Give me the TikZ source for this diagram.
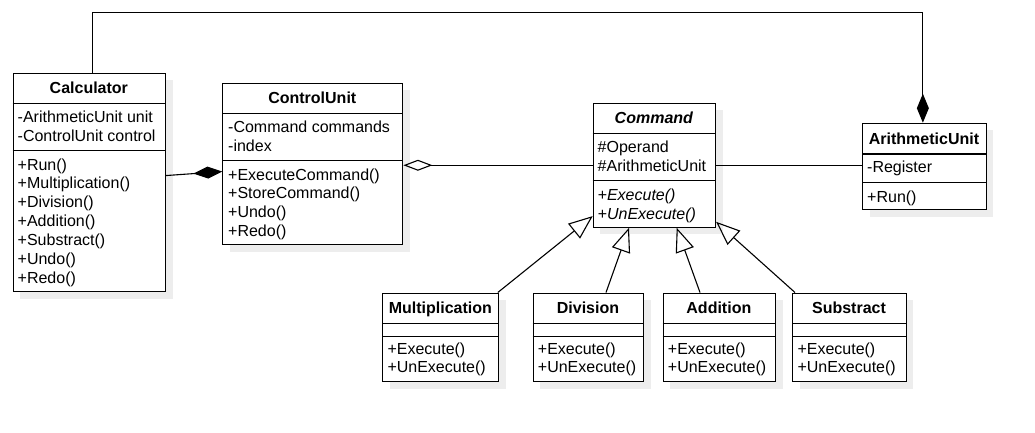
\documentclass[tikz,border=0pt]{standalone}
\usepackage{fontspec}
\setmainfont{Liberation Sans}
\usetikzlibrary{arrows.meta,shadows}
\tikzset{
  cls/.style={draw, fill=white, line width=1.1pt, inner sep=0pt,
    drop shadow={shadow xshift=7pt, shadow yshift=-7pt, fill=black!7, opacity=1}},
  sep/.style={line width=1.1pt},
  txt/.style={inner sep=0pt, text height=11.5pt, text depth=0pt, anchor=west,
    font=\fontsize{16}{19}\selectfont},
  ttl/.style={txt, anchor=center, font=\fontsize{16}{19}\selectfont\bfseries},
  conn/.style={line width=1.1pt, line join=miter},
  compo/.style={conn, -{Diamond[length=29pt,width=12pt]}},
  aggr/.style={conn, -{Diamond[open,length=29pt,width=11pt]}},
  inherit/.style={conn, -{Triangle[open,length=24pt,width=19pt]}},
}
% name, L, T, R, B, title line, separator line
\newcommand\clsbox[7]{%
  \node[cls, anchor=north west, minimum width={#4-#2}, minimum height={#5-#3}] (#1) at (#2,#3) {};
  \draw[sep] (#1.west |- 0,#6) -- (#1.east |- 0,#6);
  \draw[sep] (#1.west |- 0,#7) -- (#1.east |- 0,#7);
}
\begin{document}
\begin{tikzpicture}[x=1pt,y=-1pt]
\useasboundingbox (0,0) rectangle (1035,432);

% Calculator
\clsbox{calc}{12.7}{72.7}{165}{291}{103.3}{150.7}
\node[ttl] (calc-t) at (88.85,88) {Calculator};
\node[txt] (calc-a1) at (17.5,116.7) {-ArithmeticUnit unit};
\node[txt] (calc-a2) at (17.5,135.8) {-ControlUnit control};
\node[txt] (calc-m1) at (17.5,164.3) {+Run()};
\node[txt] (calc-m2) at (17.5,183.2) {+Multiplication()};
\node[txt] (calc-m3) at (17.5,202.1) {+Division()};
\node[txt] (calc-m4) at (17.5,221.0) {+Addition()};
\node[txt] (calc-m5) at (17.5,239.9) {+Substract()};
\node[txt] (calc-m6) at (17.5,258.8) {+Undo()};
\node[txt] (calc-m7) at (17.5,277.7) {+Redo()};

% ControlUnit
\clsbox{cu}{222.3}{82.7}{402.3}{244.3}{113.3}{160.7}
\node[ttl] (cu-t) at (312.3,98) {ControlUnit};
\node[txt] (cu-a1) at (228,126.7) {-Command commands};
\node[txt] (cu-a2) at (228,145.8) {-index};
\node[txt] (cu-m1) at (228,174.3) {+ExecuteCommand()};
\node[txt] (cu-m2) at (228,193.2) {+StoreCommand()};
\node[txt] (cu-m3) at (228,212.1) {+Undo()};
\node[txt] (cu-m4) at (228,231.0) {+Redo()};

% Command
\clsbox{cmd}{592.7}{102.7}{715}{226.7}{133.3}{180.7}
\node[ttl, font=\fontsize{16}{19}\selectfont\bfseries\itshape] (cmd-t) at (653.85,118) {Command};
\node[txt] (cmd-a1) at (597.5,146.7) {\#Operand};
\node[txt] (cmd-a2) at (597.5,165.8) {\#ArithmeticUnit};
\node[txt, font=\fontsize{16}{19}\selectfont\itshape] (cmd-m1) at (597.5,194.3) {+Execute()};
\node[txt, font=\fontsize{16}{19}\selectfont\itshape] (cmd-m2) at (597.5,213.3) {+UnExecute()};

% ArithmeticUnit
\clsbox{au}{862.3}{122.7}{985.7}{209.3}{154}{182.7}
\node[ttl] (au-t) at (924,138.3) {ArithmeticUnit};
\node[txt] (au-a1) at (867,166.5) {-Register};
\node[txt] (au-m1) at (867,196.7) {+Run()};

% Subclasses
\clsbox{mult}{382.3}{292.5}{498.3}{381}{323.3}{336.3}
\node[ttl] (mult-t) at (440.3,307.8) {Multiplication};
\node[txt] (mult-m1) at (387.3,348.3) {+Execute()};
\node[txt] (mult-m2) at (387.3,366.9) {+UnExecute()};

\clsbox{div}{532.7}{292.5}{643.3}{381}{323.3}{336.3}
\node[ttl] (div-t) at (588,307.8) {Division};
\node[txt] (div-m1) at (537.7,348.3) {+Execute()};
\node[txt] (div-m2) at (537.7,366.9) {+UnExecute()};

\clsbox{add}{662.7}{292.5}{775}{381}{323.3}{336.3}
\node[ttl] (add-t) at (718.85,307.8) {Addition};
\node[txt] (add-m1) at (667.7,348.3) {+Execute()};
\node[txt] (add-m2) at (667.7,366.9) {+UnExecute()};

\clsbox{sub}{792.3}{292.5}{905.7}{381}{323.3}{336.3}
\node[ttl] (sub-t) at (849,307.8) {Substract};
\node[txt] (sub-m1) at (797.3,348.3) {+Execute()};
\node[txt] (sub-m2) at (797.3,366.9) {+UnExecute()};

% Connectors
\draw[compo] ([yshift=6.85pt]calc.east) -- ([yshift=-7.5pt]cu.west);
\draw[aggr] (cmd.west) -- (cu.east |- cmd.west);
\draw[conn] (cmd.east) -- (au.west |- cmd.east);
\draw[compo] ([xshift=2.85pt]calc.north) -- ++(0,-60) -| ([xshift=-1.7pt]au.north);

\draw[inherit] ([xshift=-1.6pt]mult.north east) -- ([yshift=11.7pt]cmd.south west);
\draw[inherit] ([xshift=73.3pt]div.north west) -- ([xshift=36.3pt]cmd.south west);
\draw[inherit] ([xshift=37.3pt]add.north west) -- ([xshift=84pt]cmd.south west);
\draw[inherit] ([xshift=2.7pt]sub.north west) -- ([yshift=6pt]cmd.south east);
\end{tikzpicture}
\end{document}
